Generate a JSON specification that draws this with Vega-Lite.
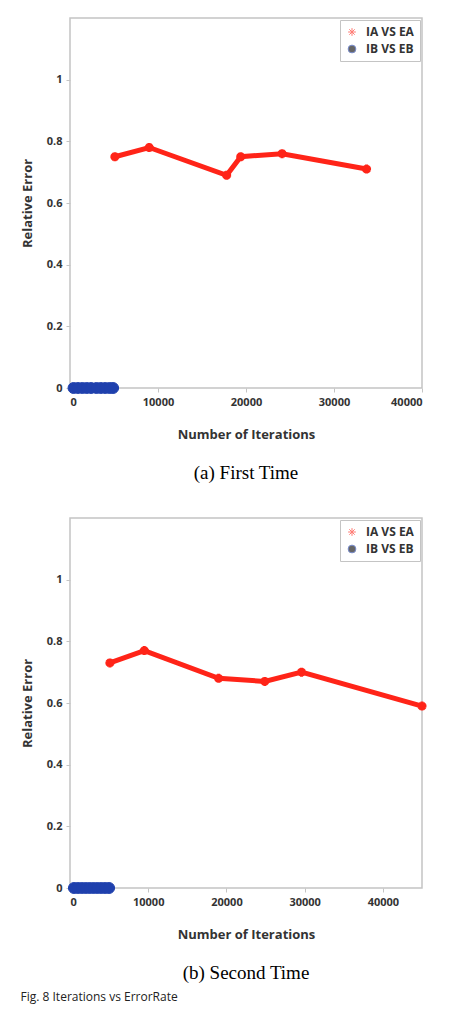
{
  "$schema": "https://vega.github.io/schema/vega-lite/v6.json",
  "padding": {"top": 17, "left": 20, "right": 5, "bottom": 6},
  "background": "white",
  "datasets": {
    "a": [
      {"it": 5100, "err": 0.75, "series": "IA VS EA"},
      {"it": 9000, "err": 0.78, "series": "IA VS EA"},
      {"it": 17800, "err": 0.69, "series": "IA VS EA"},
      {"it": 19400, "err": 0.75, "series": "IA VS EA"},
      {"it": 24100, "err": 0.76, "series": "IA VS EA"},
      {"it": 33700, "err": 0.71, "series": "IA VS EA"},
      {"it": 400, "err": 0, "series": "IB VS EB"},
      {"it": 900, "err": 0, "series": "IB VS EB"},
      {"it": 1400, "err": 0, "series": "IB VS EB"},
      {"it": 1900, "err": 0, "series": "IB VS EB"},
      {"it": 2400, "err": 0, "series": "IB VS EB"},
      {"it": 3000, "err": 0, "series": "IB VS EB"},
      {"it": 3500, "err": 0, "series": "IB VS EB"},
      {"it": 4000, "err": 0, "series": "IB VS EB"},
      {"it": 4500, "err": 0, "series": "IB VS EB"},
      {"it": 4900, "err": 0, "series": "IB VS EB"}
    ],
    "b": [
      {"it": 5100, "err": 0.73, "series": "IA VS EA"},
      {"it": 9500, "err": 0.77, "series": "IA VS EA"},
      {"it": 19000, "err": 0.68, "series": "IA VS EA"},
      {"it": 24900, "err": 0.67, "series": "IA VS EA"},
      {"it": 29600, "err": 0.70, "series": "IA VS EA"},
      {"it": 45000, "err": 0.59, "series": "IA VS EA"},
      {"it": 500, "err": 0, "series": "IB VS EB"},
      {"it": 1000, "err": 0, "series": "IB VS EB"},
      {"it": 1500, "err": 0, "series": "IB VS EB"},
      {"it": 2000, "err": 0, "series": "IB VS EB"},
      {"it": 2500, "err": 0, "series": "IB VS EB"},
      {"it": 3000, "err": 0, "series": "IB VS EB"},
      {"it": 3500, "err": 0, "series": "IB VS EB"},
      {"it": 4000, "err": 0, "series": "IB VS EB"},
      {"it": 4500, "err": 0, "series": "IB VS EB"},
      {"it": 5000, "err": 0, "series": "IB VS EB"}
    ]
  },
  "title": {
    "text": "Fig. 8 Iterations vs ErrorRate",
    "orient": "bottom",
    "anchor": "start",
    "font": "Open Sans",
    "fontSize": 12,
    "fontWeight": "normal",
    "color": "#222",
    "offset": 8
  },
  "spacing": 33,
  "vconcat": [
    {
      "width": 352,
      "height": 370,
      "data": {"name": "a"},
      "title": {"text": "(a) First Time", "orient": "bottom", "font": "Liberation Serif", "fontSize": 19, "fontWeight": "normal", "color": "#000", "offset": 23},
      "layer": [
        {
          "transform": [{"filter": "datum.series == 'IA VS EA'"}],
          "mark": {"type": "line", "color": "#ff2418", "strokeWidth": 5},
          "encoding": {
            "x": {"field": "it", "type": "quantitative", "scale": {"domain": [0, 40000]}, "axis": {"values": [0, 10000, 20000, 30000, 40000], "format": "d", "title": "Number of Iterations"}},
            "y": {"field": "err", "type": "quantitative", "scale": {"domain": [0, 1.2]}, "axis": {"values": [0, 0.2, 0.4, 0.6, 0.8, 1], "format": "~g", "title": "Relative Error"}}
          }
        },
        {
          "mark": {"type": "point", "opacity": 1},
          "encoding": {
            "x": {"field": "it", "type": "quantitative"},
            "y": {"field": "err", "type": "quantitative"},
            "color": {"field": "series", "type": "nominal", "scale": {"domain": ["IA VS EA", "IB VS EB"], "range": ["#ff2418", "#1f40ad"]}, "legend": {"title": null}},
            "shape": {"field": "series", "type": "nominal", "scale": {"domain": ["IA VS EA", "IB VS EB"], "range": ["M-1,0L1,0M0,-1L0,1M-0.7,-0.7L0.7,0.7M-0.7,0.7L0.7,-0.7", "circle"]}, "legend": {"title": null}},
            "fill": {"field": "series", "type": "nominal", "scale": {"domain": ["IA VS EA", "IB VS EB"], "range": ["transparent", "#1f40ad"]}, "legend": null},
            "size": {"field": "series", "type": "nominal", "scale": {"domain": ["IA VS EA", "IB VS EB"], "range": [80, 120]}, "legend": null},
            "strokeWidth": {"field": "series", "type": "nominal", "scale": {"domain": ["IA VS EA", "IB VS EB"], "range": [3, 1]}, "legend": null}
          }
        }
      ]
    },
    {
      "width": 352,
      "height": 370,
      "data": {"name": "b"},
      "title": {"text": "(b) Second Time", "orient": "bottom", "font": "Liberation Serif", "fontSize": 19, "fontWeight": "normal", "color": "#000", "offset": 23},
      "layer": [
        {
          "transform": [{"filter": "datum.series == 'IA VS EA'"}],
          "mark": {"type": "line", "color": "#ff2418", "strokeWidth": 5},
          "encoding": {
            "x": {"field": "it", "type": "quantitative", "scale": {"domain": [0, 45000]}, "axis": {"values": [0, 10000, 20000, 30000, 40000], "format": "d", "title": "Number of Iterations"}},
            "y": {"field": "err", "type": "quantitative", "scale": {"domain": [0, 1.2]}, "axis": {"values": [0, 0.2, 0.4, 0.6, 0.8, 1], "format": "~g", "title": "Relative Error"}}
          }
        },
        {
          "mark": {"type": "point", "opacity": 1},
          "encoding": {
            "x": {"field": "it", "type": "quantitative"},
            "y": {"field": "err", "type": "quantitative"},
            "color": {"field": "series", "type": "nominal", "scale": {"domain": ["IA VS EA", "IB VS EB"], "range": ["#ff2418", "#1f40ad"]}, "legend": {"title": null}},
            "shape": {"field": "series", "type": "nominal", "scale": {"domain": ["IA VS EA", "IB VS EB"], "range": ["M-1,0L1,0M0,-1L0,1M-0.7,-0.7L0.7,0.7M-0.7,0.7L0.7,-0.7", "circle"]}, "legend": {"title": null}},
            "fill": {"field": "series", "type": "nominal", "scale": {"domain": ["IA VS EA", "IB VS EB"], "range": ["transparent", "#1f40ad"]}, "legend": null},
            "size": {"field": "series", "type": "nominal", "scale": {"domain": ["IA VS EA", "IB VS EB"], "range": [80, 120]}, "legend": null},
            "strokeWidth": {"field": "series", "type": "nominal", "scale": {"domain": ["IA VS EA", "IB VS EB"], "range": [3, 1]}, "legend": null}
          }
        }
      ]
    }
  ],
  "resolve": {"scale": {"x": "independent", "color": "independent", "shape": "independent"}, "legend": {"color": "independent", "shape": "independent"}},
  "config": {
    "view": {"stroke": "#c4c4c4", "strokeWidth": 1.5},
    "axis": {
      "grid": false,
      "domain": false,
      "tickColor": "#c4c4c4",
      "tickSize": 4,
      "labelFont": "Open Sans",
      "labelFontWeight": "bold",
      "labelFontSize": 11,
      "labelColor": "#333",
      "titleFont": "Open Sans",
      "titleFontWeight": "bold",
      "titleFontSize": 13,
      "titleColor": "#333"
    },
    "axisX": {"labelPadding": 4, "titlePadding": 21},
    "axisY": {"labelPadding": 4, "titlePadding": 12},
    "legend": {
      "orient": "top-right",
      "offset": 2,
      "padding": 6,
      "strokeColor": "#c4c4c4",
      "fillColor": "white",
      "labelFont": "Open Sans",
      "labelFontWeight": "bold",
      "labelFontSize": 12,
      "labelColor": "#333",
      "symbolSize": 60,
      "symbolStrokeWidth": 1,
      "symbolOpacity": 0.6,
      "rowPadding": 5,
      "labelOffset": 8
    }
  }
}
